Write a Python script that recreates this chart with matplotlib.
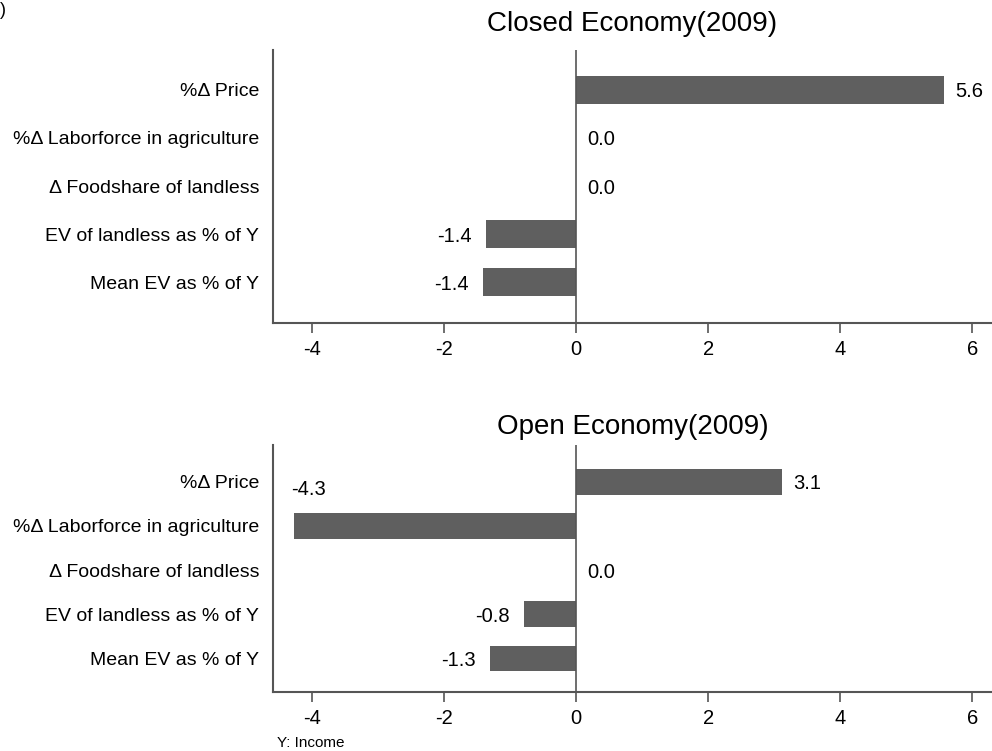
import matplotlib
matplotlib.use("Agg")
import matplotlib.pyplot as plt

plt.rcParams['font.family'] = ['Liberation Sans', 'DejaVu Sans']

# Data
categories = ["%\u0394 Price",
              "%\u0394 Laborforce in agriculture",
              "\u0394 Foodshare of landless",
              "EV of landless as % of Y",
              "Mean EV as % of Y"]
closed_values = [5.58, 0.0, 0.0, -1.37, -1.41]
open_values = [3.12, -4.27, 0.0, -0.79, -1.31]
x_ticks = [-4, -2, 0, 2, 4, 6]

bar_color = "#5f5f5f"
axis_color = "#555555"


def draw_panel(ax, values, title, title_pad, ylim):
    rows = list(range(len(categories)))
    ax.barh(rows, values, height=0.57, color=bar_color, zorder=2)
    ax.axvline(0, color=axis_color, linewidth=1.2, zorder=3)
    ax.set_xlim(-4.59, 6.30)
    ax.set_ylim(*ylim)
    ax.set_xticks(x_ticks)
    ax.set_xticklabels([str(t) for t in x_ticks])
    ax.set_yticks(rows)
    ax.set_yticklabels(categories)
    ax.tick_params(axis="y", length=0, pad=10, labelsize=14)
    ax.tick_params(axis="x", length=7, width=1.2, color=axis_color,
                   pad=5, labelsize=14.5)
    for side in ["top", "right"]:
        ax.spines[side].set_visible(False)
    for side in ["left", "bottom"]:
        ax.spines[side].set_color(axis_color)
        ax.spines[side].set_linewidth(1.5)
    ax.set_title(title, fontsize=20, pad=title_pad)

    # value labels
    for r, v in zip(rows, values):
        txt = "%.1f" % v
        if v < 0:
            ax.annotate(txt, (v, r), xytext=(-10, 0),
                        textcoords="offset points", ha="right",
                        va="center_baseline", fontsize=14.5)
        else:
            ax.annotate(txt, (v, r), xytext=(8, 0),
                        textcoords="offset points", ha="left",
                        va="center_baseline", fontsize=14.5)


fig = plt.figure(figsize=(9.92, 7.51), dpi=100)
ax_top = fig.add_axes([0.2752, 0.5699, 0.7248, 0.3635])
ax_bot = fig.add_axes([0.2752, 0.0786, 0.7248, 0.3289])

draw_panel(ax_top, closed_values, "Closed Economy(2009)", 14, (4.85, -0.83))
draw_panel(ax_bot, open_values, "Open Economy(2009)", 8, (4.77, -0.84))

# the -4.3 label sits outside its bar, up near the top row
for t in ax_bot.texts:
    if t.get_text() == "-4.3":
        t.set_position((-4.05, 0.12))
        t.set_ha("center")
        t.xyann = (-4.05, 0.12)
        t.set_anncoords("data")

fig.text(0.279, 0.0107, "Y: Income", fontsize=11, ha="left", va="center")
fig.text(0.0, 0.998, ")", fontsize=13, ha="left", va="top")

fig.savefig("out.png", dpi=100)
